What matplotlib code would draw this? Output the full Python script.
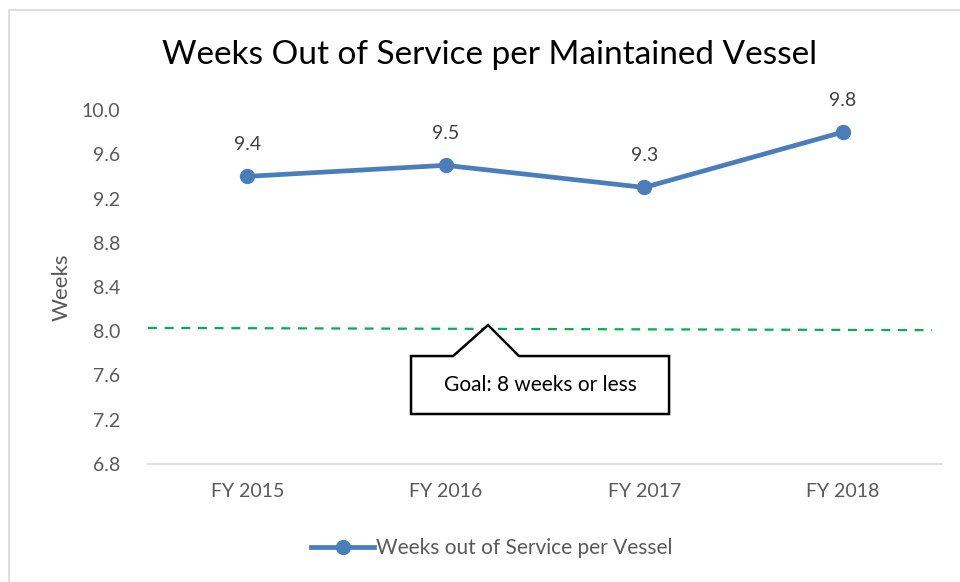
import matplotlib
matplotlib.use("Agg")
import matplotlib.pyplot as plt
from matplotlib.patches import Polygon, Rectangle

years = ["FY 2015", "FY 2016", "FY 2017", "FY 2018"]
weeks = [9.4, 9.5, 9.3, 9.8]
goal = 8.0
y_ticks = [6.8, 7.2, 7.6, 8.0, 8.4, 8.8, 9.2, 9.6, 10.0]

plt.rcParams['font.family'] = ['Lato', 'DejaVu Sans']

fig = plt.figure(figsize=(9.6, 5.82), dpi=100)
ax = fig.add_axes([148 / 960, 1 - 464 / 582, 794 / 960, 354 / 582])

blue = "#4A7EBB"
x = list(range(len(years)))
ax.plot(x, weeks, "-o", color=blue, lw=3.4, ms=10, label="Weeks out of Service per Vessel")
for xi, v in zip(x, weeks):
    ax.annotate(f"{v:.1f}", (xi, v), xytext=(0, 17), textcoords="offset points",
                ha="center", va="bottom", fontsize=14, color="#404040")

# goal line (slightly tilted like the drawn shape)
ax.plot([-0.5, 3.45], [goal + 0.03, goal + 0.01], color="#00B050", lw=1.6,
        ls=(0, (4, 3.5)))

# callout box
callout = [(0.825, 7.776), (1.037, 7.776), (1.213, 8.056), (1.369, 7.776),
           (2.125, 7.776), (2.125, 7.252), (0.825, 7.252)]
ax.add_patch(Polygon(callout, closed=True, facecolor="white", edgecolor="black",
                     lw=1.8, zorder=5))
ax.text(1.475, 7.514, "Goal: 8 weeks or less", ha="center", va="center",
        fontsize=15, color="black", zorder=6)

ax.set_xlim(-0.5, 3.5)
ax.set_ylim(6.8, 10.0)
ax.set_xticks(x)
ax.set_xticklabels(years)
ax.set_yticks(y_ticks)
ax.set_yticklabels([f"{t:.1f}" for t in y_ticks])
ax.tick_params(axis="both", length=0, labelsize=14, labelcolor="#595959")
ax.tick_params(axis="x", pad=14)
ax.tick_params(axis="y", pad=20)
for s in ["top", "right", "left"]:
    ax.spines[s].set_visible(False)
ax.spines["bottom"].set_color("#D9D9D9")
ax.spines["bottom"].set_linewidth(1.2)
ax.set_ylabel("Weeks", fontsize=16, color="#595959", labelpad=7)

fig.text(490 / 960, 1 - 55 / 582, "Weeks Out of Service per Maintained Vessel",
         ha="center", va="center", fontsize=24, color="black")

fig.legend(loc="center", bbox_to_anchor=(492 / 960, 1 - 548 / 582), frameon=False,
           fontsize=15, labelcolor="#595959", handlelength=3.0, handletextpad=0.1)

# outer chart border
fig.add_artist(Rectangle((9 / 960, -0.1), 1.2, 1 - 10 / 582 + 0.1,
                         transform=fig.transFigure, fill=False,
                         edgecolor="#D9D9D9", lw=1.2))

fig.savefig("out.png", dpi=100)
